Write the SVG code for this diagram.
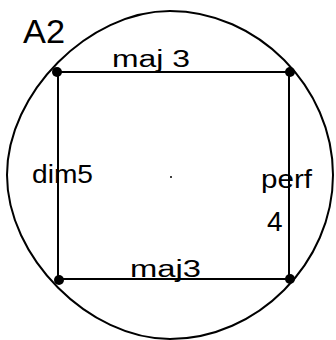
<svg xmlns="http://www.w3.org/2000/svg" width="336" height="340" viewBox="0 0 336 340">
<style>
.ln{stroke:#000;stroke-width:2;fill:none;stroke-linecap:round}
.dot{fill:#000}
.t{font-family:"Liberation Sans","DejaVu Sans",sans-serif;fill:#000}
</style>
<rect width="336" height="340" fill="#fff"/>
<g id="circle">
<path class="ln" d="M170,11 C257,11 333,87 333,175 C333,263 257,339 170,339 C89,339 7,257 7,175 C7,93 89,11 170,11 Z"/>
</g>
<g id="connectors">
<line class="ln" x1="57" y1="72" x2="290" y2="72"/>
<line class="ln" x1="58" y1="72" x2="58" y2="279"/>
<line class="ln" x1="289" y1="72" x2="289" y2="279"/>
<line class="ln" x1="58" y1="279" x2="290" y2="279"/>
</g>
<g id="n-tl"><circle class="dot" cx="57" cy="72" r="5"/></g>
<g id="n-tr"><circle class="dot" cx="290" cy="72" r="5"/></g>
<g id="n-bl"><circle class="dot" cx="59" cy="280" r="5"/></g>
<g id="n-br"><circle class="dot" cx="290" cy="279" r="5"/></g>
<g id="center"><circle class="dot" cx="171" cy="177" r="1"/></g>
<g id="labels">
<text class="t" x="23" y="43" font-size="34" textLength="42" lengthAdjust="spacingAndGlyphs">A2</text>
<text class="t" x="112" y="67" font-size="23" textLength="78" lengthAdjust="spacingAndGlyphs">maj 3</text>
<text class="t" x="130" y="277" font-size="23" textLength="71" lengthAdjust="spacingAndGlyphs">maj3</text>
<text class="t" x="32" y="183" font-size="25" textLength="61" lengthAdjust="spacingAndGlyphs">dim5</text>
<text class="t" x="261" y="188" font-size="25" textLength="51" lengthAdjust="spacingAndGlyphs">perf</text>
<text class="t" x="267" y="231" font-size="28">4</text>
</g>
</svg>
